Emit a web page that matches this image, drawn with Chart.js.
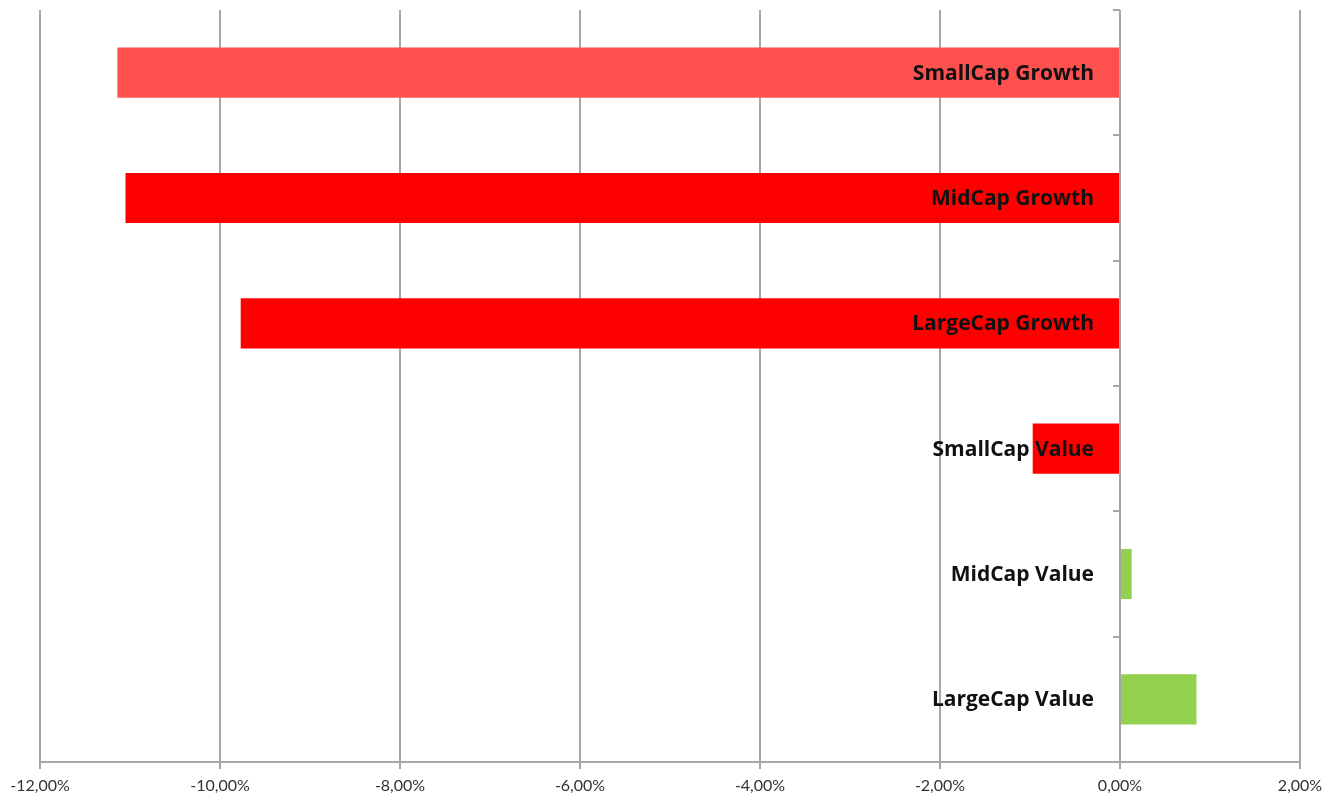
<!DOCTYPE html>
<html>
<head>
<meta charset="utf-8">
<script src="https://cdn.jsdelivr.net/npm/chart.js@4/dist/chart.umd.min.js"></script>
<style>
  html, body { margin: 0; padding: 0; background: #fff; }
  #wrap { width: 1339px; height: 796px; }
</style>
</head>
<body>
<div id="wrap"><canvas id="styleChart" width="1339" height="796"></canvas></div>
<script>
  const categories = ['SmallCap Growth', 'MidCap Growth', 'LargeCap Growth', 'SmallCap Value', 'MidCap Value', 'LargeCap Value'];
  const returns = [-11.14, -11.05, -9.77, -0.97, 0.13, 0.85];
  const xTicks = [-12, -10, -8, -6, -4, -2, 0, 2];
  const highlighted = 'SmallCap Growth';

  const RED = '#ff0000';
  const RED_LIGHT = '#ff5050';
  const GREEN = '#92d050';
  const GRID = '#a6a6a6';
  const fmt = (v) => v.toFixed(2).replace('.', ',') + '%';

  // category labels sit next to the zero line, like Excel's "next to axis" labels
  const zeroAxis = {
    id: 'zeroAxis',
    afterDatasetsDraw(chart) {
      const { ctx, chartArea, scales: { x, y } } = chart;
      const x0 = Math.round(x.getPixelForValue(0));
      const step = (chartArea.bottom - chartArea.top) / categories.length;
      ctx.save();
      ctx.strokeStyle = GRID;
      ctx.lineWidth = 2;
      for (let i = 0; i <= categories.length; i++) {
        const yy = Math.round(chartArea.top + i * step);
        ctx.beginPath();
        ctx.moveTo(x0 - 7, yy);
        ctx.lineTo(x0, yy);
        ctx.stroke();
      }
      ctx.fillStyle = '#111111';
      ctx.font = 'bold 21px "Open Sans"';
      ctx.textAlign = 'right';
      ctx.textBaseline = 'middle';
      categories.forEach((name, i) => {
        ctx.fillText(name, x0 - 26, y.getPixelForValue(i) + 1);
      });
      ctx.restore();
    }
  };

  new Chart(document.getElementById('styleChart'), {
    type: 'bar',
    data: {
      labels: categories,
      datasets: [{
        data: returns,
        backgroundColor: (c) => {
          const v = returns[c.dataIndex];
          if (v >= 0) return GREEN;
          return categories[c.dataIndex] === highlighted ? RED_LIGHT : RED;
        },
        borderWidth: 0,
        barPercentage: 0.4,
        categoryPercentage: 1
      }]
    },
    options: {
      indexAxis: 'y',
      responsive: false,
      animation: false,
      layout: { padding: { left: 40, right: 39, top: 10, bottom: 0 } },
      plugins: {
        legend: { display: false },
        tooltip: { enabled: false }
      },
      scales: {
        x: {
          min: -12,
          max: 2,
          afterBuildTicks: (axis) => { axis.ticks = xTicks.map((v) => ({ value: v })); },
          afterFit: (axis) => { axis.height = 34; },
          grid: { color: GRID, lineWidth: 2, tickLength: 7, drawTicks: true },
          border: { color: GRID, width: 2 },
          ticks: {
            color: '#333333',
            font: { family: 'Lato', size: 16 },
            padding: 7,
            maxRotation: 0,
            callback: (v) => fmt(v)
          }
        },
        y: {
          display: false,
          grid: { display: false }
        }
      }
    },
    plugins: [zeroAxis]
  });
</script>
</body>
</html>
